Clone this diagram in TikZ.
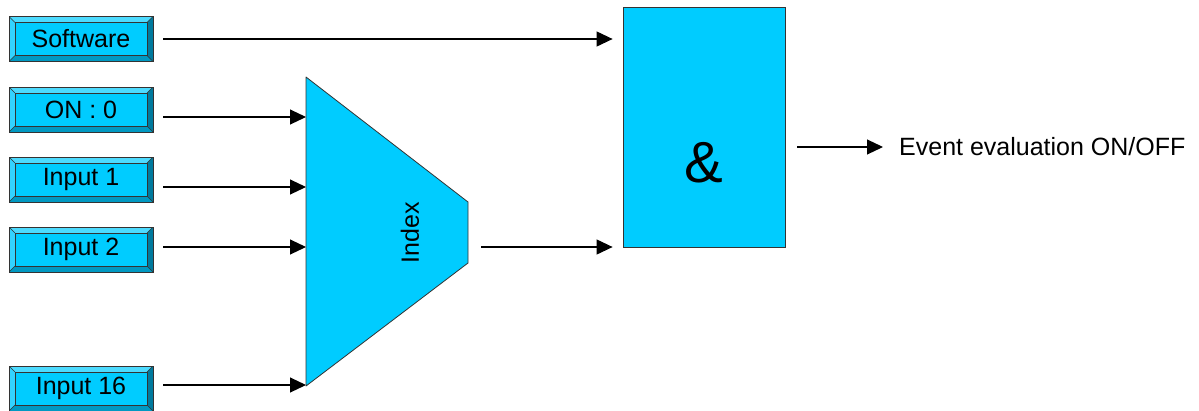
\documentclass[tikz,border=0pt]{standalone}
\usepackage{fontspec}
\setmainfont{Liberation Sans}
\usetikzlibrary{arrows.meta}
\definecolor{face}{HTML}{00CCFF}
\definecolor{bevtop}{HTML}{4DDBFF}
\definecolor{bevleft}{HTML}{33D3FF}
\definecolor{bevbot}{HTML}{0099C2}
\definecolor{bevright}{HTML}{007A9E}
\definecolor{edge}{HTML}{333333}
\tikzset{
  arr/.style={line width=1.1pt, -{Triangle[length=16pt,width=15pt]}},
  bevbox/.style={draw=edge, line width=0.8pt, fill=face, minimum width=144pt, minimum height=45pt,
    inner sep=0pt, font=\fontsize{25}{30}\selectfont,
    path picture={
      \coordinate (ppnw) at (path picture bounding box.north west);
      \coordinate (ppne) at (path picture bounding box.north east);
      \coordinate (ppsw) at (path picture bounding box.south west);
      \coordinate (ppse) at (path picture bounding box.south east);
      \fill[bevtop] (ppnw) -- (ppne) -- ([shift={(-6pt,-6pt)}]ppne) -- ([shift={(6pt,-6pt)}]ppnw) -- cycle;
      \fill[bevleft] (ppnw) -- ([shift={(6pt,-6pt)}]ppnw) -- ([shift={(6pt,6pt)}]ppsw) -- (ppsw) -- cycle;
      \fill[bevbot] (ppsw) -- ([shift={(6pt,6pt)}]ppsw) -- ([shift={(-6pt,6pt)}]ppse) -- (ppse) -- cycle;
      \fill[bevright] (ppne) -- (ppse) -- ([shift={(-6pt,6pt)}]ppse) -- ([shift={(-6pt,-6pt)}]ppne) -- cycle;
      \draw[edge, line width=0.5pt] ([shift={(6pt,-6pt)}]ppnw) rectangle ([shift={(-6pt,6pt)}]ppse);
      \draw[edge, line width=0.5pt] (ppnw) -- ++(6pt,-6pt) (ppne) -- ++(-6pt,-6pt)
        (ppsw) -- ++(6pt,6pt) (ppse) -- ++(-6pt,6pt);
    }},
  blk/.style={draw=edge, line width=0.8pt, fill=face},
  lbl/.style={font=\fontsize{25}{30}\selectfont, inner sep=0pt}
}
\begin{document}
\begin{tikzpicture}[x=1pt,y=-1pt]
\useasboundingbox (0,0) rectangle (1199,410);

% input boxes
\node[bevbox] (soft) at (81,39)    {Software};
\node[bevbox] (on0)  at (81,109.5) {ON : 0};
\node[bevbox] (in1)  at (81,179.5) {Input 1};
\node[bevbox] (in2)  at (81,249.5) {Input 2};
\node[bevbox] (in16) at (81,388.5) {Input 16};

% index multiplexer
\draw[blk, line join=round] (306,77) -- (468,202) -- (468,263) -- (306,386) -- cycle;
\node[lbl, rotate=90] (idx) at (410,233) {Index};
\coordinate (m1) at (306,117);
\coordinate (m2) at (306,187);
\coordinate (m3) at (306,247);
\coordinate (m4) at (306,385);
\coordinate (mo) at (468,247);

% AND block
\node[blk, minimum width=162pt, minimum height=240pt, inner sep=0pt] (and) at (704,127) {};
\node[inner sep=0pt, font=\fontsize{58}{60}\selectfont] (amp) at (704,163) {\&};

% output label
\node[lbl, anchor=west] (ev) at (899,147) {Event evaluation ON/OFF};

% connectors
\draw[arr] ([xshift=10pt]on0.east |- m1) -- (m1);
\draw[arr] ([xshift=10pt]in1.east |- m2) -- (m2);
\draw[arr] ([xshift=10pt]in2.east |- m3) -- (m3);
\draw[arr] ([xshift=10pt]in16.east |- m4) -- (m4);
\draw[arr] ([xshift=10pt]soft.east) -- ([xshift=-10pt]and.west |- soft.east);
\draw[arr] ([xshift=13pt]mo) -- ([xshift=-10pt]and.west |- mo);
\draw[arr] ([xshift=12pt]and.east |- ev.west) -- ([xshift=-16pt]ev.west);
\end{tikzpicture}
\end{document}
